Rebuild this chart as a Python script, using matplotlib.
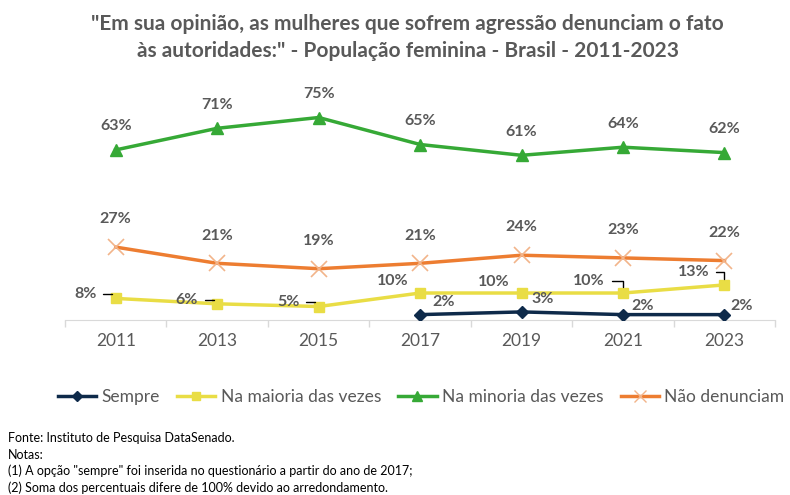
import matplotlib
matplotlib.use("Agg")
import matplotlib.pyplot as plt
from matplotlib import font_manager as fm
from matplotlib.lines import Line2D

years = ["2011", "2013", "2015", "2017", "2019", "2021", "2023"]
sempre = [None, None, None, 2, 3, 2, 2]
maioria = [8, 6, 5, 10, 10, 10, 13]
minoria = [63, 71, 75, 65, 61, 64, 62]
nao_denunciam = [27, 21, 19, 21, 24, 23, 22]

title = ('"Em sua opinião, as mulheres que sofrem agressão denunciam o fato\n'
         'às autoridades:" - População feminina - Brasil - 2011-2023')
legend_labels = ["Sempre", "Na maioria das vezes", "Na minoria das vezes", "Não denunciam"]
footer = ["Fonte: Instituto de Pesquisa DataSenado.",
          "Notas:",
          '(1) A opção "sempre" foi inserida no questionário a partir do ano de 2017;',
          "(2) Soma dos percentuais difere de 100% devido ao arredondamento."]

names = {f.name for f in fm.fontManager.ttflist}
main_font = "Lato" if "Lato" in names else "DejaVu Sans"
narrow = "Liberation Sans Narrow" if "Liberation Sans Narrow" in names else main_font
plt.rcParams["font.family"] = [main_font, "DejaVu Sans"]

GRAY = "#595959"
C_NAVY = "#0E2A4A"
C_YEL = "#E9DD45"
C_GRN = "#36A936"
C_ORG = "#ED7D31"
C_ORG_M = "#F2B48A"

fig = plt.figure(figsize=(7.9, 4.95), dpi=100)
ax = fig.add_axes([0.0823, 0.3535, 0.899, 0.4364])

x = list(range(len(years)))
xs_s = [i for i, v in zip(x, sempre) if v is not None]
vs_s = [v for v in sempre if v is not None]

ax.plot(x, minoria, color=C_GRN, lw=2.5, marker="^", ms=8, zorder=3)
ax.plot(x, nao_denunciam, color=C_ORG, lw=2.5, marker="x", ms=11, mew=1.2,
        mec=C_ORG_M, zorder=3)
ax.plot(x, maioria, color=C_YEL, lw=2.5, marker="s", ms=7.5, zorder=3)
ax.plot(xs_s, vs_s, color=C_NAVY, lw=2.5, marker="D", ms=6, zorder=4)

lbl = dict(color=GRAY, fontsize=11.5, fontweight="bold", textcoords="offset points")
for i, v in enumerate(minoria):
    ax.annotate(f"{v}%", (i, v), xytext=(0, 17), ha="center", va="center", **lbl)
for i, v in enumerate(nao_denunciam):
    ax.annotate(f"{v}%", (i, v), xytext=(0, 20), ha="center", va="center", **lbl)

leader = dict(arrowstyle="-", color="black", lw=1,
              connectionstyle="angle,angleA=0,angleB=90,rad=0", shrinkA=3, shrinkB=4)
yel_off = {0: (-14, 3, True), 1: (-14, 3, True), 2: (-14, 3, True),
           3: (-8, 9, False), 4: (-9, 8, False), 5: (-13, 9, True), 6: (-11, 9, True)}
for i, v in enumerate(maioria):
    dx, dy, lead = yel_off[i]
    ax.annotate(f"{v}%", (i, v), xytext=(dx, dy), ha="right", va="center",
                arrowprops=leader if lead else None, **lbl)

nav_off = {3: (9, 9), 4: (7, 9), 5: (6, 6), 6: (4, 6)}
for i, v in zip(xs_s, vs_s):
    dx, dy = nav_off[i]
    ax.annotate(f"{v}%", (i, v), xytext=(dx, dy), ha="left", va="center", **lbl)

ax.set_xlim(-0.5, len(years) - 0.5)
ax.set_ylim(0, 80)
ax.set_yticks([])
ax.set_xticks(x)
ax.set_xticklabels(years, color=GRAY, fontsize=12.5)
ax.set_xticks([i - 0.5 for i in range(len(years) + 1)], minor=True)
ax.tick_params(axis="x", which="major", length=0, pad=9)
ax.tick_params(axis="x", which="minor", length=5, color="#D9D9D9", width=1)
for s in ["top", "right", "left"]:
    ax.spines[s].set_visible(False)
ax.spines["bottom"].set_color("#D9D9D9")
ax.patch.set_alpha(0)

fig.suptitle(title, x=0.516, y=0.972, color=GRAY, fontsize=15, fontweight="bold",
             linespacing=1.45, va="top")

handles = [
    Line2D([], [], color=C_NAVY, lw=2.5, marker="D", ms=5),
    Line2D([], [], color=C_YEL, lw=2.5, marker="s", ms=6),
    Line2D([], [], color=C_GRN, lw=2.5, marker="^", ms=7),
    Line2D([], [], color=C_ORG, lw=2.5, marker="x", ms=8, mec=C_ORG_M),
]
leg = fig.legend(handles, legend_labels, loc="center", bbox_to_anchor=(0.533, 0.197),
                 ncol=4, frameon=False, fontsize=12.5, handlelength=2.2,
                 handletextpad=0.3, columnspacing=1.0, labelcolor=GRAY,
                 borderpad=0, borderaxespad=0)

fy = [438, 455, 471, 488]
for t, yy in zip(footer, fy):
    fig.text(8 / 790, 1 - yy / 495, t, fontsize=9, family=narrow, color="black",
             va="center", ha="left")

fig.savefig("out.png", dpi=100)
